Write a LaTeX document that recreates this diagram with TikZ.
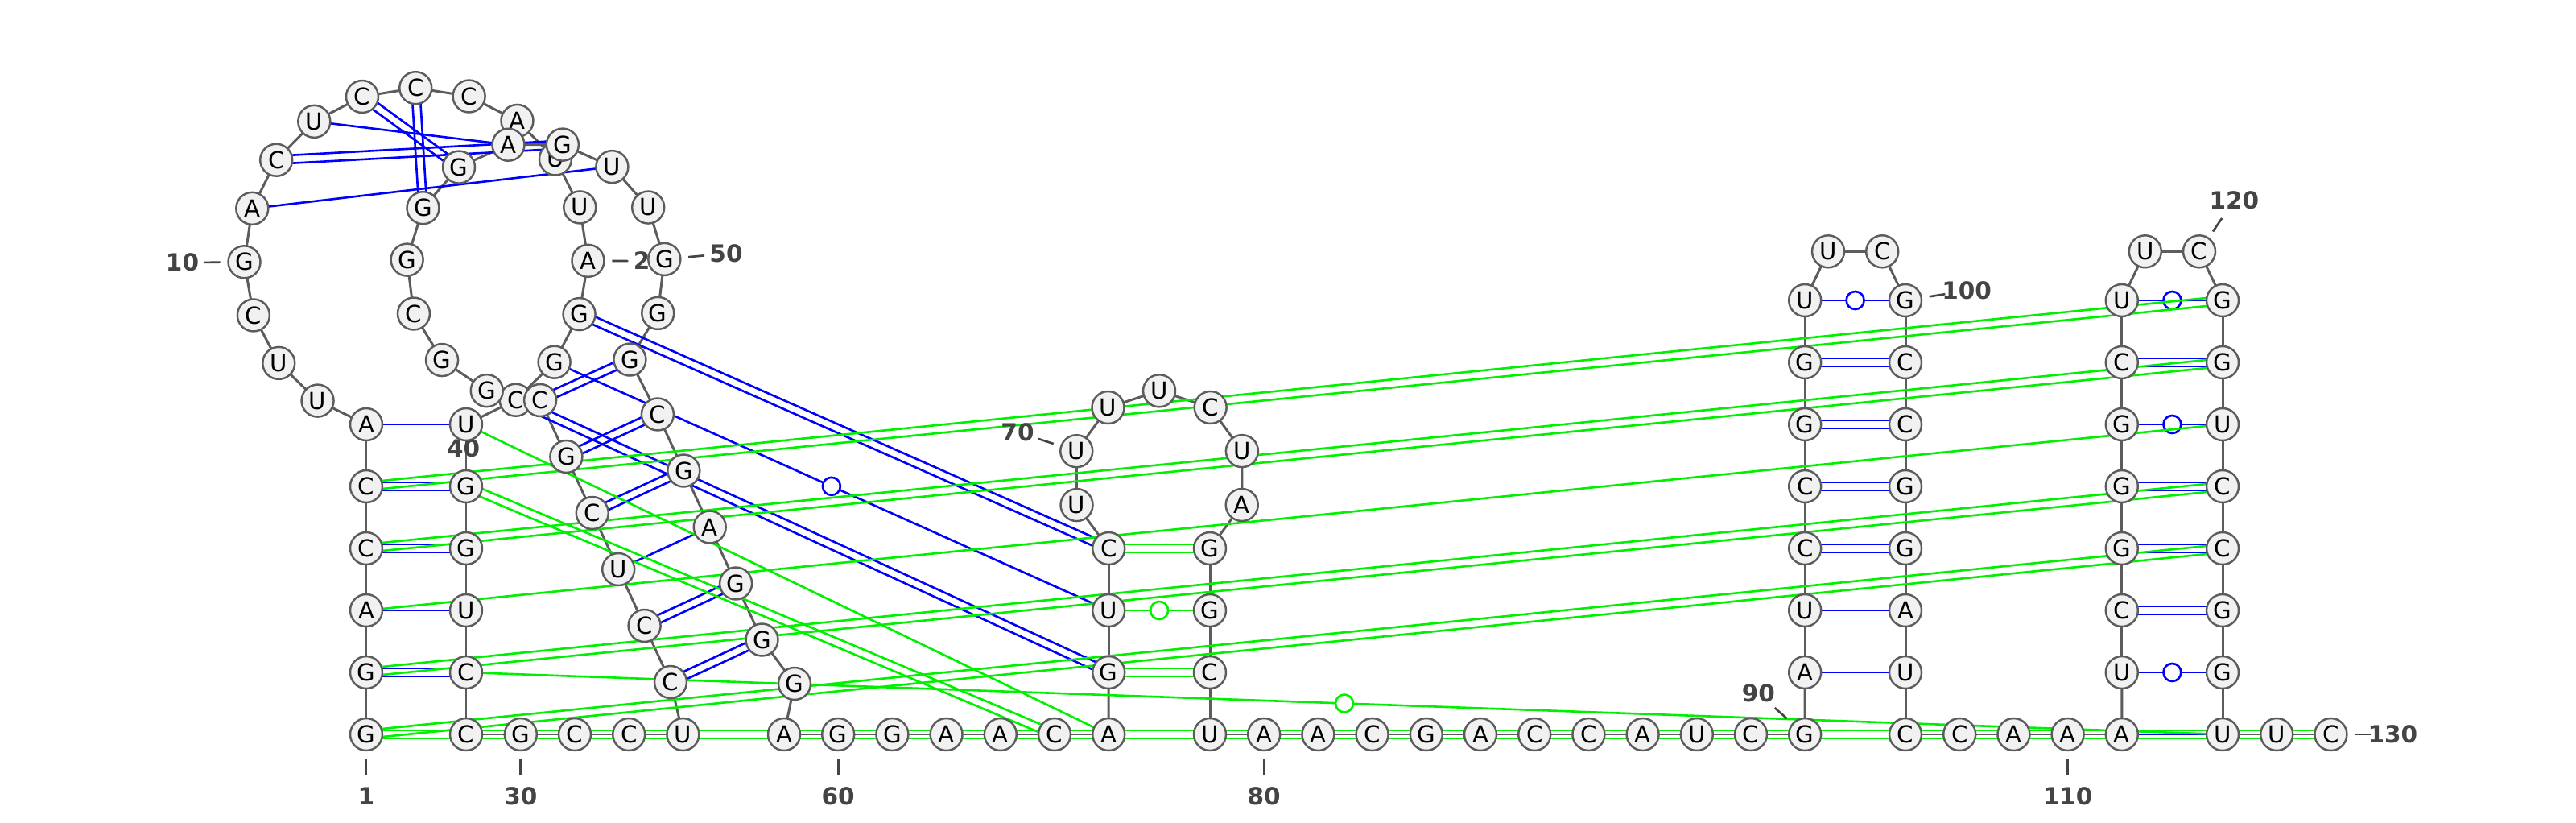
\documentclass[tikz,border=0pt]{standalone}
\usepackage{fontspec}
\setmainfont{DejaVu Sans}
\usetikzlibrary{calc}
\definecolor{ringgray}{HTML}{5C5C5C}
\definecolor{basefill}{HTML}{F1F1F1}
\definecolor{numgray}{HTML}{444444}
\definecolor{pairblue}{HTML}{0000FF}
\definecolor{pairgreen}{HTML}{00F000}
\pgfdeclarelayer{back}
\pgfsetlayers{back,main}
\tikzset{
  base/.style={circle,draw=ringgray,fill=basefill,line width=0.7pt,minimum size=0.4cm,inner sep=0pt,font=\fontsize{8.3}{9}\selectfont},
  chain/.style={draw=ringgray,line width=0.85pt},
  bpair/.style={draw=pairblue,line width=0.75pt},
  gpair/.style={draw=pairgreen,line width=0.75pt},
  wobble/.style={circle,draw=#1,fill=white,line width=0.75pt,minimum size=0.22cm,inner sep=0pt},
  tick/.style={draw=numgray,line width=0.75pt},
  num/.style={text=numgray,font=\fontsize{8.4}{10}\selectfont\bfseries,inner sep=0pt}
}

\begin{document}
\begin{tikzpicture}
    \useasboundingbox (0,0) rectangle (32,-10.22);
    \foreach \k/\l in {1/G,2/G,3/A,4/C,5/C,6/A}
        \node[base] (n\k) at (4.55,{-9.12+0.77*(\k-1)}) {\l};
    \foreach \k/\l in {7/U,8/U,9/C,10/G,11/A,12/C,13/U,14/C,15/C,16/C,17/A,18/U,19/U,20/A,21/G,22/G,23/C}
        \node[base] (n\k) at ([shift={(5.17,-3.227)}]{361.7-18.1*\k}:2.135) {\l};
    \foreach \k/\l in {24/U,25/G,26/G,27/U,28/C,29/C}
        \node[base] (n\k) at (5.79,{-9.12+0.77*(29-\k)}) {\l};
    \foreach \k/\l in {30/G,31/C,32/C,33/U}
        \node[base] (n\k) at ({6.468+0.672*(\k-30)},-9.12) {\l};
    \foreach \k/\l in {34/C,35/C,36/U,37/C,38/G}
        \node[base] (n\k) at ({8.33-0.324*(\k-34)},{-8.47+0.7*(\k-34)}) {\l};
    \foreach \k/\l in {39/C,40/G,41/G,42/C,43/G,44/G,45/G,46/A,47/G,48/U,49/U,50/G,51/G,52/G}
        \node[base] (n\k) at ([shift={(6.655,-3.366)}]{857.75-24.25*\k}:1.605) {\l};
    \foreach \k/\l in {53/C,54/G,55/A,56/G,57/G}
        \node[base] (n\k) at ({8.169+0.324*(\k-53)},{-5.145-0.7*(\k-53)}) {\l};
    \node[base] (n58) at (9.87,-8.49) {G};
    \foreach \k/\l in {59/A,60/G,61/G,62/A,63/A,64/C,65/A}
        \node[base] (n\k) at ({9.74+0.672*(\k-59)},-9.12) {\l};
    \foreach \k/\l in {66/G,67/U,68/C}
        \node[base] (n\k) at (13.772,{-9.12+0.77*(\k-65)}) {\l};
    \foreach \k/\l in {69/U,70/U,71/U,72/U,73/C,74/U,75/A}
        \node[base] (n\k) at ([shift={(14.401,-5.933)}]{2327.06-36.07*\k}:1.08) {\l};
    \foreach \k/\l in {76/G,77/G,78/C,79/U}
        \node[base] (n\k) at (15.03,{-9.12+0.77*(79-\k)}) {\l};
    \foreach \k/\l in {80/A,81/A,82/C,83/G,84/A,85/C,86/C,87/A,88/U,89/C,90/G}
        \node[base] (n\k) at ({15.03+0.672*(\k-79)},-9.12) {\l};
    \foreach \k/\l in {91/A,92/U,93/C,94/C,95/G,96/G,97/U}
        \node[base] (n\k) at (22.422,{-9.12+0.77*(\k-90)}) {\l};
    \node[base] (n98) at (22.71,-3.123) {U};
    \node[base] (n99) at (23.382,-3.123) {C};
    \foreach \k/\l in {100/G,101/C,102/C,103/G,104/G,105/A,106/U,107/C}
        \node[base] (n\k) at (23.67,{-9.12+0.77*(107-\k)}) {\l};
    \foreach \k/\l in {108/C,109/A,110/A,111/A}
        \node[base] (n\k) at ({23.67+0.672*(\k-107)},-9.12) {\l};
    \foreach \k/\l in {112/U,113/C,114/G,115/G,116/G,117/C,118/U}
        \node[base] (n\k) at (26.358,{-9.12+0.77*(\k-111)}) {\l};
    \node[base] (n119) at (26.648,-3.123) {U};
    \node[base] (n120) at (27.32,-3.123) {C};
    \foreach \k/\l in {121/G,122/G,123/U,124/C,125/C,126/G,127/G,128/U}
        \node[base] (n\k) at (27.61,{-9.12+0.77*(128-\k)}) {\l};
    \node[base] (n129) at (28.282,-9.12) {U};
    \node[base] (n130) at (28.954,-9.12) {C};

    \begin{pgfonlayer}{back}
    \foreach \k [remember=\k as \p (initially 1)] in {2,...,130}
        \draw[chain] (n\p.center) -- (n\k.center);
    \foreach \a/\b in {3/27,6/24,11/48,13/46,36/55,91/106,92/105,111/128}
        \draw[bpair] (n\a.center) -- (n\b.center);
    \foreach \a/\b in {2/28,4/26,5/25,12/47,14/45,15/44,21/68,23/66,34/57,35/56,37/54,38/53,39/52,93/104,94/103,95/102,96/101,113/126,114/125,115/124,117/122}{
        \draw[bpair] ($(n\a.center)!0.05cm!90:(n\b.center)$) -- ($(n\b.center)!0.05cm!-90:(n\a.center)$);
        \draw[bpair] ($(n\a.center)!0.05cm!-90:(n\b.center)$) -- ($(n\b.center)!0.05cm!90:(n\a.center)$);
    }
    \foreach \a/\b in {22/67,97/100,112/127,116/123,118/121}
        \draw[bpair] (n\a.center) -- (n\b.center) node[midway,wobble=pairblue] {};
    \foreach \a/\b in {3/123,24/65}
        \draw[gpair] (n\a.center) -- (n\b.center);
    \foreach \a/\b in {1/125,2/124,4/122,5/121,25/64,66/78,68/76,1/130}{
        \draw[gpair] ($(n\a.center)!0.05cm!90:(n\b.center)$) -- ($(n\b.center)!0.05cm!-90:(n\a.center)$);
        \draw[gpair] ($(n\a.center)!0.05cm!-90:(n\b.center)$) -- ($(n\b.center)!0.05cm!90:(n\a.center)$);
    }
    \foreach \a/\b in {28/128,67/77}
        \draw[gpair] (n\a.center) -- (n\b.center) node[midway,wobble=pairgreen] {};
    \foreach \k/\ang/\t in {1/-90/1,10/180.7/10,20/-0.3/20,30/-90/30,40/-112.25/40,50/5.25/50,60/-90/60,70/162.16/70,80/-90/80,90/138.7/90,100/9/100,110/-90/110,120/55.7/120,130/0/130}{
        \draw[tick] ([shift={(\ang:0.3)}]n\k.center) -- ([shift={(\ang:0.5)}]n\k.center);
        \node[num] at ([shift={(\ang:0.77)}]n\k.center) {\t};
    }
    \end{pgfonlayer}
\end{tikzpicture}
\end{document}
